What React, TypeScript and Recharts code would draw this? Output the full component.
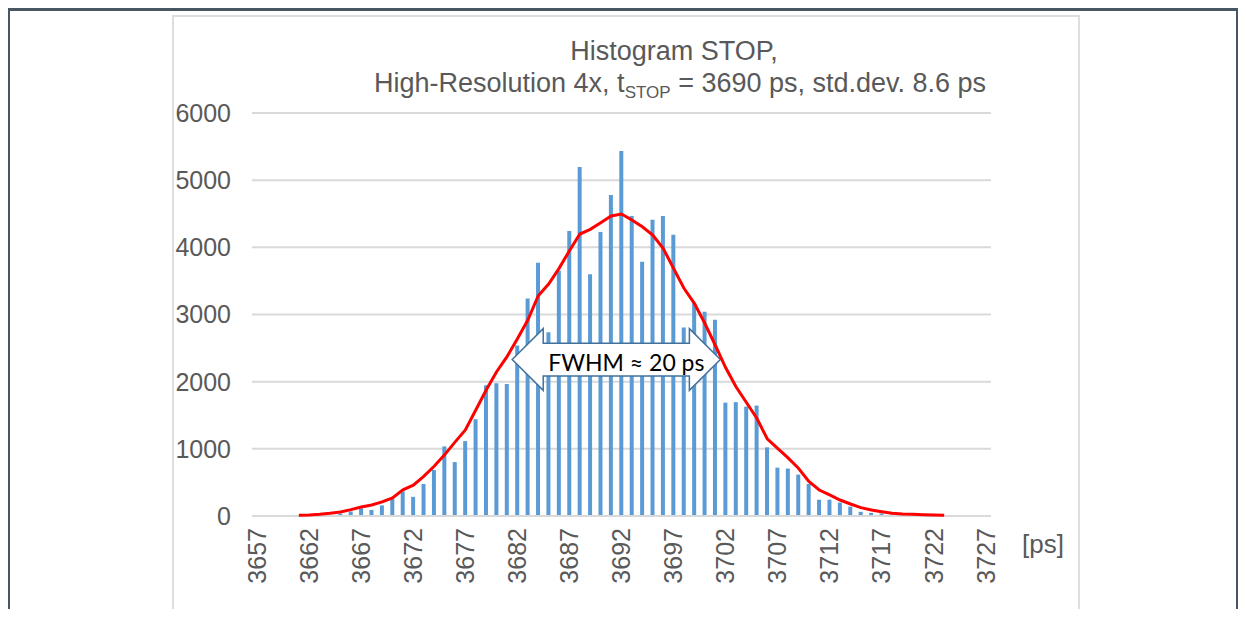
import React from 'react';
import {
  ComposedChart,
  Bar,
  Line,
  XAxis,
  YAxis,
  CartesianGrid,
  ReferenceArea
} from 'recharts';

// STOP time bins [ps]
const bins = [
  3657, 3658, 3659, 3660, 3661, 3662, 3663, 3664, 3665, 3666,
  3667, 3668, 3669, 3670, 3671, 3672, 3673, 3674, 3675, 3676,
  3677, 3678, 3679, 3680, 3681, 3682, 3683, 3684, 3685, 3686,
  3687, 3688, 3689, 3690, 3691, 3692, 3693, 3694, 3695, 3696,
  3697, 3698, 3699, 3700, 3701, 3702, 3703, 3704, 3705, 3706,
  3707, 3708, 3709, 3710, 3711, 3712, 3713, 3714, 3715, 3716,
  3717, 3718, 3719, 3720, 3721, 3722, 3723, 3724, 3725, 3726,
  3727
];

// histogram counts per bin
const counts = [
  null, null, null, null, null, null, 8, 15, 36, 68,
  115, 90, 158, 260, 365, 285, 476, 685, 1036, 803,
  1115, 1441, 1946, 1976, 1966, 2540, 3240, 3770, 2734, 3650,
  4245, 5196, 3600, 4230, 4780, 5434, 4468, 3785, 4409, 4468,
  4186, 2808, 3170, 3041, 2923, 1688, 1695, 1628, 1644, 1022,
  720, 706, 617, 478, 242, 243, 200, 140, 62, 47,
  37, 22, 12, 6, 3, null, null, null, null, null,
  null
];

// smoothed curve (red)
const fit = [
  null, null, null, null, 10, 15, 25, 40, 60, 95,
  135, 165, 210, 270, 390, 460, 590, 740, 910, 1100,
  1280, 1578, 1876, 2148, 2372, 2640, 2918, 3280, 3453, 3687,
  3950, 4198, 4268, 4367, 4466, 4496, 4407, 4307, 4184, 3985,
  3687, 3390, 3167, 2870, 2546, 2210, 1925, 1690, 1455, 1150,
  1008, 865, 710, 516, 387, 313, 238, 179, 124, 89,
  64, 40, 30, 25, 19, 15, 10, null, null, null,
  null
];

const yTicks = [0, 1000, 2000, 3000, 4000, 5000, 6000];

// FWHM annotation span
const fwhmFrom = 3682;
const fwhmTo = 3701;
const fwhmLow = 1870;
const fwhmHigh = 2790;

const FONT = '"Liberation Sans", Arial, sans-serif';
const GREY_TEXT = '#595959';
const CHART_W = 908;
const CHART_H = 597;
const MARGIN = { top: 98, right: 89, bottom: 16, left: 0 };

const data = bins.map((b, i) => ({ ps: b, count: counts[i], fit: fit[i] }));

const XTick = ({ x, y, payload }: any) => (
  <text
    x={x}
    y={y}
    transform={`rotate(-90, ${x}, ${y})`}
    textAnchor="end"
    dx={-12}
    dy="0.35em"
    fill={GREY_TEXT}
    fontSize={25}
    fontFamily={FONT}
  >
    {payload.value}
  </text>
);

const FwhmArrow = ({ x, y, width, height }: any) => {
  const head = 31;
  const inset = height * 0.235;
  const cy = y + height / 2;
  const pts = [
    [x, cy],
    [x + head, y],
    [x + head, y + inset],
    [x + width - head, y + inset],
    [x + width - head, y],
    [x + width, cy],
    [x + width - head, y + height],
    [x + width - head, y + height - inset],
    [x + head, y + height - inset],
    [x + head, y + height]
  ]
    .map((p) => p.join(','))
    .join(' ');
  return (
    <g>
      <defs>
        <clipPath id="fwhm-clip">
          <polygon points={pts} />
        </clipPath>
      </defs>
      <polygon points={pts} fill="#ffffff" stroke="#41719c" strokeWidth={1.5} />
      <text
        x={x + 36}
        y={cy + 11}
        fill="#000000"
        fontSize={23}
        fontFamily="Lato, 'Noto Sans', sans-serif"
        clipPath="url(#fwhm-clip)"
      >
        FWHM ≈ 20 ps
      </text>
    </g>
  );
};

export default function App() {
  return (
    <div style={{ position: 'relative', width: 1230, height: 601, fontFamily: FONT }}>
      <style>{'html, body { overflow: hidden; }'}</style>
      {/* outer frame */}
      <div
        style={{
          position: 'absolute',
          left: 0,
          top: 0,
          width: 1230,
          height: 620,
          boxSizing: 'border-box',
          borderTop: '3px solid #475662',
          borderLeft: '2px solid #475662',
          borderRight: '2px solid #475662'
        }}
      />
      {/* chart box */}
      <div
        style={{
          position: 'absolute',
          left: 164,
          top: 7,
          width: CHART_W,
          height: CHART_H,
          boxSizing: 'border-box',
          border: '2px solid #dedede'
        }}
      />
      {/* histogram bars */}
      <div style={{ position: 'absolute', left: 164, top: 7 }}>
        <ComposedChart width={CHART_W} height={CHART_H} data={data} margin={MARGIN}>
          <CartesianGrid vertical={false} stroke="#d9d9d9" strokeWidth={2} />
          <XAxis
            dataKey="ps"
            interval={4}
            axisLine={{ stroke: '#d9d9d9', strokeWidth: 2 }}
            tickLine={false}
            tickSize={0}
            tickMargin={0}
            height={80}
            tick={<XTick />}
          />
          <YAxis
            domain={[0, 6000]}
            ticks={yTicks}
            width={80}
            axisLine={false}
            tickLine={false}
            tickSize={0}
            tickMargin={21}
            tick={{ fill: GREY_TEXT, fontSize: 25, fontFamily: FONT }}
          />
          <Bar dataKey="count" fill="#5b9bd5" barSize={4} isAnimationActive={false} />
        </ComposedChart>
      </div>
      {/* FWHM arrow and red curve on top of the bars */}
      <div style={{ position: 'absolute', left: 164, top: 7 }}>
        <ComposedChart width={CHART_W} height={CHART_H} data={data} margin={MARGIN}>
          <XAxis
            dataKey="ps"
            scale="band"
            interval={4}
            axisLine={false}
            tickLine={false}
            tick={false}
            height={80}
          />
          <YAxis domain={[0, 6000]} ticks={yTicks} width={80} axisLine={false} tickLine={false} tick={false} />
          <ReferenceArea
            x1={fwhmFrom}
            x2={fwhmTo}
            y1={fwhmLow}
            y2={fwhmHigh}
            shape={(p: any) => <FwhmArrow {...p} />}
          />
          <Line
            type="linear"
            dataKey="fit"
            stroke="#ff0000"
            strokeWidth={3}
            dot={false}
            activeDot={false}
            isAnimationActive={false}
          />
        </ComposedChart>
      </div>
      {/* title */}
      <div
        style={{
          position: 'absolute',
          left: 366,
          top: 27,
          width: 600,
          textAlign: 'center',
          fontSize: 27,
          lineHeight: '32px',
          color: GREY_TEXT,
          whiteSpace: 'nowrap'
        }}
      >
        <div>Histogram STOP,</div>
        <div>
          High-Resolution 4x, t
          <span style={{ fontSize: 17, position: 'relative', top: 6 }}>STOP</span>
          {' '}= 3690 ps, std.dev. 8.6 ps
        </div>
      </div>
      <div
        style={{
          position: 'absolute',
          left: 1014,
          top: 520,
          fontSize: 26,
          lineHeight: '32px',
          color: GREY_TEXT
        }}
      >
        [ps]
      </div>
    </div>
  );
}
